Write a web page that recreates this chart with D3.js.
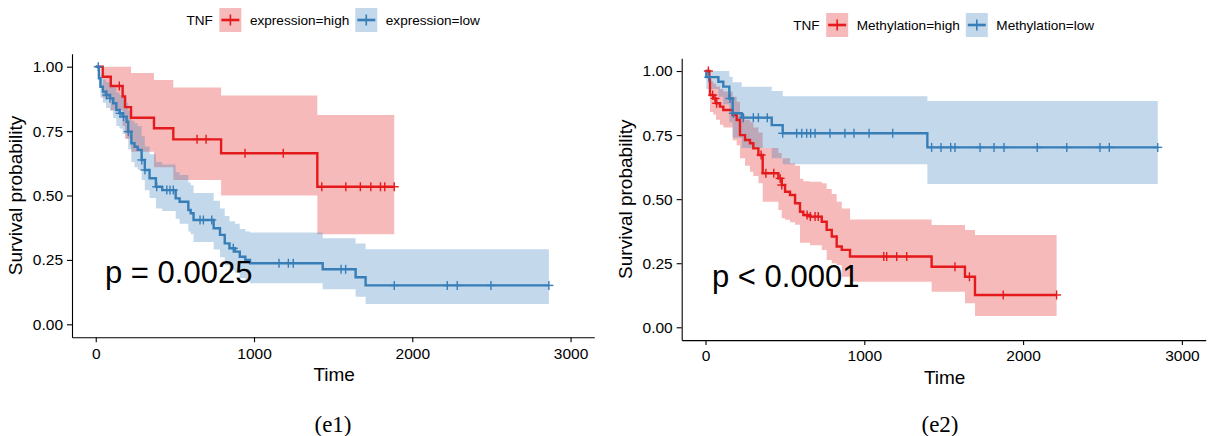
<!DOCTYPE html>
<html>
<head>
<meta charset="utf-8">
<script src="https://cdn.jsdelivr.net/npm/d3@7"></script>
<style>
body { margin: 0; background: #fff; }
text { font-family: "Liberation Sans", Arial, sans-serif; fill: #000; }
</style>
</head>
<body>
<svg id="chart" width="1211" height="436"></svg>
<script>
// shared ticks
const xTicks = [0, 1000, 2000, 3000];
const yTicks = [0, 0.25, 0.5, 0.75, 1];

// (e1) TNF expression = high
const e1HighTime  = [0, 44, 95, 170, 185, 223, 368, 490, 792, 1400];
const e1HighSurv  = [1, 0.961, 0.925, 0.884, 0.843, 0.802, 0.761, 0.718, 0.664, 0.534];
const e1HighLower = [1, 0.88, 0.83, 0.77, 0.72, 0.67, 0.61, 0.56, 0.50, 0.35];
const e1HighUpper = [1, 1, 1, 1, 1, 0.975, 0.948, 0.919, 0.888, 0.8125];
const e1HighCensor = [149, 640, 697, 943, 1185, 1428, 1580, 1672, 1738, 1799, 1826, 1886];

// (e1) TNF expression = low
const e1LowTime  = [0, 20, 30, 45, 65, 90, 110, 130, 150, 170, 195, 205, 225, 245, 265, 290, 310, 340, 380, 420,
                    505, 530, 585, 600, 618, 745, 785, 815, 845, 880, 910, 945, 975, 1434, 1642, 1705];
const e1LowSurv  = [1, 0.955, 0.922, 0.903, 0.89, 0.877, 0.858, 0.832, 0.819, 0.806, 0.786, 0.748, 0.703, 0.689, 0.677,
                    0.638, 0.599, 0.567, 0.534, 0.521, 0.489, 0.476, 0.444, 0.431, 0.405, 0.373, 0.347, 0.314, 0.295,
                    0.282, 0.262, 0.25, 0.237, 0.2135, 0.1825, 0.151];
const e1LowLower = [1, 0.92, 0.88, 0.86, 0.84, 0.83, 0.80, 0.77, 0.76, 0.74, 0.72, 0.68, 0.63, 0.61, 0.60, 0.56, 0.52,
                    0.49, 0.45, 0.44, 0.41, 0.39, 0.36, 0.35, 0.32, 0.29, 0.26, 0.23, 0.21, 0.20, 0.18, 0.17, 0.159,
                    0.136, 0.107, 0.079];
const e1LowUpper = [1, 0.99, 0.97, 0.95, 0.94, 0.93, 0.92, 0.90, 0.89, 0.88, 0.86, 0.83, 0.79, 0.78, 0.77, 0.73, 0.69,
                    0.66, 0.63, 0.62, 0.59, 0.58, 0.55, 0.54, 0.51, 0.48, 0.45, 0.42, 0.40, 0.39, 0.37, 0.36, 0.356,
                    0.334, 0.314, 0.291];
const e1LowCensor = [16, 69, 90, 154, 175, 206, 291, 311, 385, 449, 469, 490, 659, 680, 733, 869, 1158, 1217, 1248,
                     1550, 1579, 1886, 2221, 2284, 2497, 2863];

// (e2) TNF methylation = high
const e2HighTime  = [0, 24, 28, 49, 66, 91, 112, 171, 196, 217, 249, 280, 301, 333, 360, 459, 480, 501, 532, 564,
                     595, 616, 658, 732, 763, 795, 826, 858, 910, 1424, 1634, 1697];
const e2HighSurv  = [1, 0.965, 0.906, 0.893, 0.874, 0.861, 0.848, 0.828, 0.809, 0.75, 0.731, 0.718, 0.698, 0.672,
                     0.601, 0.581, 0.555, 0.529, 0.516, 0.484, 0.451, 0.438, 0.432, 0.412, 0.38, 0.354, 0.315, 0.302,
                     0.276, 0.236, 0.197, 0.126];
const e2HighLower = [1, 0.93, 0.84, 0.83, 0.81, 0.79, 0.78, 0.73, 0.71, 0.66, 0.63, 0.607, 0.59, 0.562, 0.49, 0.458,
                     0.425, 0.42, 0.41, 0.40, 0.33, 0.33, 0.32, 0.302, 0.263, 0.25, 0.243, 0.197, 0.178, 0.139, 0.094,
                     0.044];
const e2HighUpper = [1, 1, 0.96, 0.95, 0.94, 0.93, 0.92, 0.90, 0.88, 0.83, 0.81, 0.80, 0.78, 0.76, 0.70, 0.68, 0.66,
                     0.66, 0.64, 0.63, 0.58, 0.57, 0.568, 0.562, 0.54, 0.52, 0.49, 0.464, 0.421, 0.399, 0.38, 0.36];
const e2HighCensor = [18, 45, 60, 70, 350, 380, 430, 470, 480, 640, 660, 690, 710, 1123, 1141, 1204, 1267, 1571, 1662,
                      1875, 2211];

// (e2) TNF methylation = low
const e2LowTime  = [0, 5, 81, 112, 150, 171, 228, 417, 486, 1397];
const e2LowSurv  = [1, 0.976, 0.958, 0.939, 0.893, 0.835, 0.818, 0.789, 0.757, 0.702];
const e2LowLower = [1, 0.93, 0.90, 0.87, 0.80, 0.74, 0.70, 0.66, 0.636, 0.559];
const e2LowUpper = [1, 1, 1, 1, 0.978, 0.956, 0.939, 0.922, 0.902, 0.883];
const e2LowCensor = [20, 154, 175, 238, 301, 333, 389, 486, 574, 606, 637, 662, 690, 784, 878, 935, 1030, 1179, 1424,
                     1483, 1544, 1571, 1729, 1817, 1880, 2089, 2275, 2484, 2543, 2848];

const red = '#E41A1C';
const blue = '#377EB8';

const svg = d3.select('#chart');

function panel(o) {
    const x = d3.scaleLinear().domain([-150, 3150]).range([o.left, o.right]);
    const y = d3.scaleLinear().domain([-0.05, 1.05]).range([o.bottom, o.top]);

    const series = o.series.map(s => {
        const pts = s.time.map((t, i) => ({ t: t, s: s.surv[i], lo: s.lower[i], up: s.upper[i] }));
        const last = pts[pts.length - 1];
        pts.push({ t: d3.max(s.censor), s: last.s, lo: last.lo, up: last.up });
        return Object.assign({}, s, { pts: pts });
    });

    const area = d3.area().curve(d3.curveStepAfter)
        .x(d => x(d.t)).y0(d => y(d.lo)).y1(d => y(d.up));
    const line = d3.line().curve(d3.curveStepAfter)
        .x(d => x(d.t)).y(d => y(d.s));

    series.forEach(s => {
        svg.append('path').datum(s.pts)
            .attr('d', area)
            .attr('fill', s.color)
            .attr('fill-opacity', 0.3);
    });
    series.forEach(s => {
        svg.append('path').datum(s.pts)
            .attr('d', line)
            .attr('fill', 'none')
            .attr('stroke', s.color)
            .attr('stroke-width', 2.4);
    });
    series.forEach(s => {
        const marks = svg.append('g').selectAll('g')
            .data(s.censor)
            .enter()
            .append('g')
            .attr('transform', t => {
                const i = d3.bisectRight(s.time, t) - 1;
                return `translate(${x(t)},${y(s.surv[i])})`;
            });
        marks.append('line').attr('x1', 0).attr('x2', 0).attr('y1', -4.5).attr('y2', 4.5)
            .attr('stroke', s.color).attr('stroke-width', 1.4);
        marks.append('line').attr('x1', -4.5).attr('x2', 4.5).attr('y1', 0).attr('y2', 0)
            .attr('stroke', s.color).attr('stroke-width', 1.4);
    });

    const xAxis = svg.append('g')
        .attr('transform', `translate(0,${o.bottom})`)
        .call(d3.axisBottom(x).tickValues(xTicks).tickFormat(d3.format('d'))
            .tickSize(5).tickSizeOuter(0).tickPadding(o.xPad));
    const yAxis = svg.append('g')
        .attr('transform', `translate(${o.left},0)`)
        .call(d3.axisLeft(y).tickValues(yTicks).tickFormat(d3.format('.2f')).tickSize(5).tickSizeOuter(0).tickPadding(4));
    [xAxis, yAxis].forEach(a => {
        a.selectAll('path, line').attr('stroke', '#000').attr('stroke-width', 1.1);
        a.selectAll('text').style('font-family', '"Liberation Sans", Arial, sans-serif')
            .style('font-size', '15.5px').attr('fill', '#000');
    });

    svg.append('text')
        .attr('x', (o.left + o.right) / 2 + 1)
        .attr('y', o.bottom + 44)
        .attr('text-anchor', 'middle')
        .style('font-size', '19px')
        .text('Time');

    svg.append('text')
        .attr('transform', `translate(${o.yTitleX},${(o.top + o.bottom) / 2 + 0}) rotate(-90)`)
        .attr('text-anchor', 'middle')
        .style('font-size', '19px')
        .text('Survival probability');

    svg.append('text')
        .attr('x', o.pX)
        .attr('y', o.pY)
        .style('font-size', '31px')
        .text(o.pText);

    svg.append('text')
        .attr('x', o.capX)
        .attr('y', 432)
        .attr('text-anchor', 'middle')
        .style('font-family', '"Liberation Serif", "Times New Roman", serif')
        .style('font-size', '23px')
        .text(o.caption);

    // legend on top, centred over the panel
    const lg = svg.append('g');
    const title = lg.append('text').attr('x', 0).attr('y', o.legY).attr('dy', '0.35em')
        .style('font-size', '13.6px').text('TNF');
    let pos = title.node().getComputedTextLength() + 6.5;
    series.forEach(s => {
        lg.append('rect').attr('x', pos).attr('y', o.legY - 12).attr('width', 22).attr('height', 24)
            .attr('fill', s.color).attr('fill-opacity', 0.3);
        lg.append('line').attr('x1', pos + 2).attr('x2', pos + 20).attr('y1', o.legY).attr('y2', o.legY)
            .attr('stroke', s.color).attr('stroke-width', 2.6);
        lg.append('line').attr('x1', pos + 11).attr('x2', pos + 11).attr('y1', o.legY - 5.5).attr('y2', o.legY + 5.5)
            .attr('stroke', s.color).attr('stroke-width', 1.6);
        pos += 22 + 8.5;
        const lab = lg.append('text').attr('x', pos).attr('y', o.legY).attr('dy', '0.35em')
            .style('font-size', '13.6px').text(s.label);
        pos += lab.node().getComputedTextLength() + 6;
    });
    lg.attr('transform', `translate(${(o.left + o.right) / 2 - (pos - 6) / 2},0)`);
}

panel({
    left: 72, right: 594.3, top: 53.8, bottom: 337.2,
    xPad: 6, yTitleX: 22, legY: 20,
    pX: 105, pY: 283, pText: 'p = 0.0025',
    capX: 333, caption: '(e1)',
    series: [
        { label: 'expression=high', color: red, time: e1HighTime, surv: e1HighSurv, lower: e1HighLower, upper: e1HighUpper, censor: e1HighCensor },
        { label: 'expression=low', color: blue, time: e1LowTime, surv: e1LowSurv, lower: e1LowLower, upper: e1LowUpper, censor: e1LowCensor }
    ]
});

panel({
    left: 681.7, right: 1205.7, top: 58.2, bottom: 340.1,
    xPad: 5, yTitleX: 632, legY: 25,
    pX: 712, pY: 287, pText: 'p < 0.0001',
    capX: 940, caption: '(e2)',
    series: [
        { label: 'Methylation=high', color: red, time: e2HighTime, surv: e2HighSurv, lower: e2HighLower, upper: e2HighUpper, censor: e2HighCensor },
        { label: 'Methylation=low', color: blue, time: e2LowTime, surv: e2LowSurv, lower: e2LowLower, upper: e2LowUpper, censor: e2LowCensor }
    ]
});
</script>
</body>
</html>
